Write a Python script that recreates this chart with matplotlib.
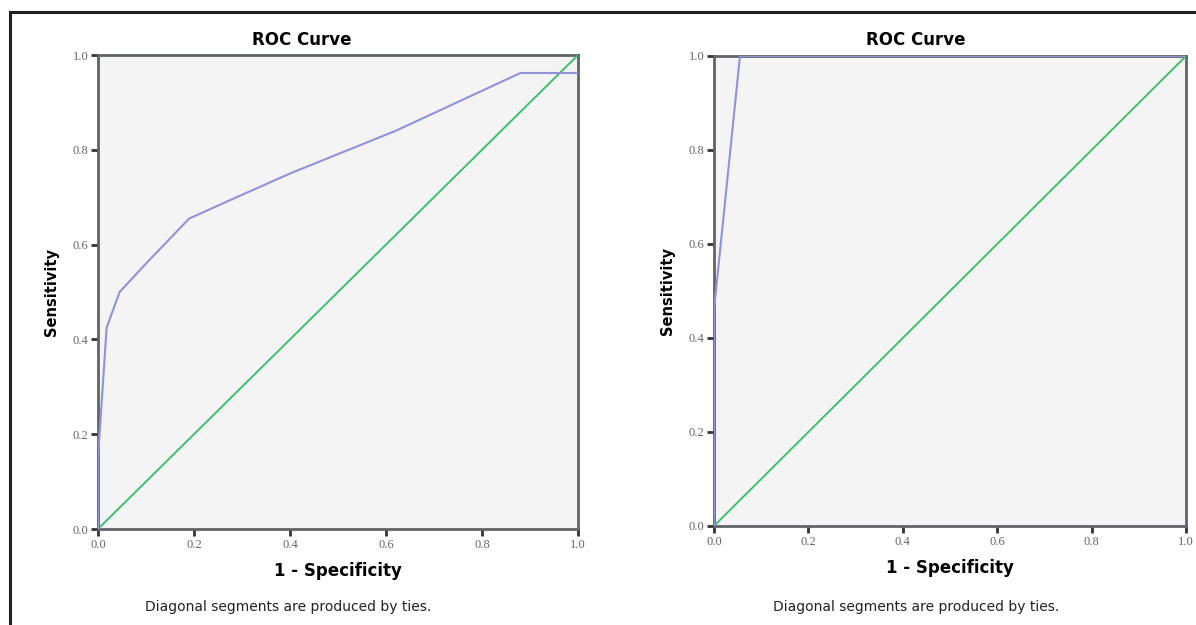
import matplotlib
matplotlib.use('Agg')
import matplotlib.pyplot as plt
from matplotlib.lines import Line2D

# ROC data
fpr_a = [0.0, 0.0, 0.018, 0.045, 0.10, 0.19, 0.30, 0.40, 0.62, 0.88, 1.0]
tpr_a = [0.0, 0.15, 0.425, 0.50, 0.56, 0.655, 0.705, 0.75, 0.84, 0.962, 0.962]

fpr_b = [0.0, 0.0, 0.055, 1.0]
tpr_b = [0.0, 0.46, 1.0, 1.0]

ref_line = [0.0, 1.0]
ticks = [0.0, 0.2, 0.4, 0.6, 0.8, 1.0]
tick_labels = ['0.0', '0.2', '0.4', '0.6', '0.8', '1.0']

title = 'ROC Curve'
xlab = '1 - Specificity'
ylab = 'Sensitivity'
note = 'Diagonal segments are produced by ties.'

curve_col = '#9093d8'
ref_col = '#3fbf6f'
spine_col = '#5f6468'

fig = plt.figure(figsize=(11.96, 6.25), dpi=100)

# outer frame (left + top only visible)
fig.add_artist(Line2D([10 / 1196, 10 / 1196], [0, 1 - 12 / 625], color='#222222', lw=2.2,
                      transform=fig.transFigure))
fig.add_artist(Line2D([10 / 1196, 1], [1 - 12 / 625, 1 - 12 / 625], color='#222222', lw=2.2,
                      transform=fig.transFigure))

panels = [
    ([98 / 1196, 96 / 625, 480 / 1196, 474 / 625], fpr_a, tpr_a, 302, 288),
    ([714 / 1196, 99 / 625, 472 / 1196, 470 / 625], fpr_b, tpr_b, 916, 916),
]

for rect, fx, ty, title_x, note_x in panels:
    ax = fig.add_axes(rect)
    ax.set_facecolor('#f4f4f4')
    ax.plot(ref_line, ref_line, color=ref_col, lw=1.4, zorder=3)
    ax.plot(fx, ty, color=curve_col, lw=1.5, zorder=4)
    ax.set_xlim(0, 1)
    ax.set_ylim(0, 1)
    ax.set_xticks(ticks)
    ax.set_yticks(ticks)
    ax.set_xticklabels(tick_labels, family='Liberation Serif', fontsize=9, color='#666666')
    ax.set_yticklabels(tick_labels, family='Liberation Serif', fontsize=9, color='#666666')
    ax.tick_params(direction='out', length=5, width=2, color='#333333', pad=2)
    for s in ax.spines.values():
        s.set_color(spine_col)
        s.set_linewidth(2)
    ax.set_xlabel(xlab, fontsize=12, fontweight='bold', labelpad=8)
    ax.set_ylabel(ylab, fontsize=10.5, fontweight='bold', labelpad=10)
    fig.text(title_x / 1196, 1 - 40 / 625, title, ha='center', va='center',
             fontsize=12, fontweight='bold')
    fig.text(note_x / 1196, 1 - 607 / 625, note, ha='center', va='center',
             fontsize=10, color='#222222')

plt.savefig('out.png', dpi=100)
plt.close()
